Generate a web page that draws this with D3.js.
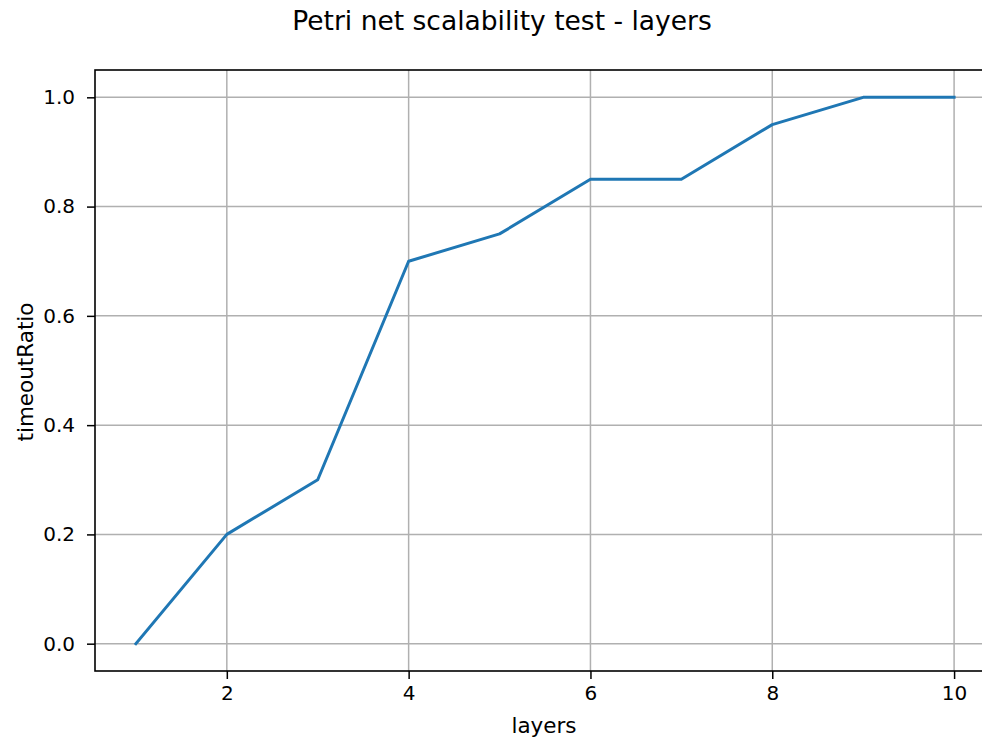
<!DOCTYPE html>
<html>
<head>
<meta charset="utf-8">
<script src="https://cdn.jsdelivr.net/npm/d3@7"></script>
<style>
  html, body { margin: 0; padding: 0; background: #fff; }
  svg { display: block; font-family: "DejaVu Sans", sans-serif; }
</style>
</head>
<body>
<svg id="chart" width="982" height="740"></svg>
<script>
// Timeout ratio per number of layers
const layers = [1, 2, 3, 4, 5, 6, 7, 8, 9, 10];
const timeoutRatio = [0.0, 0.2, 0.3, 0.7, 0.75, 0.85, 0.85, 0.95, 1.0, 1.0];
const xTicks = [2, 4, 6, 8, 10];
const yTicks = [0.0, 0.2, 0.4, 0.6, 0.8, 1.0];

const svg = d3.select("#chart");
const margin = { left: 95, top: 70, right: 995, bottom: 671 };

const x = d3.scaleLinear().domain([0.55, 10.45]).range([margin.left, margin.right]);
const y = d3.scaleLinear().domain([-0.05, 1.05]).range([margin.bottom, margin.top]);

// Grid
const grid = svg.append("g");
grid.selectAll(".gx").data(xTicks).join("line")
  .attr("x1", d => x(d)).attr("x2", d => x(d))
  .attr("y1", margin.top).attr("y2", margin.bottom)
  .attr("stroke", "#b0b0b0").attr("stroke-width", 1.5);
grid.selectAll(".gy").data(yTicks).join("line")
  .attr("x1", margin.left).attr("x2", margin.right)
  .attr("y1", d => y(d)).attr("y2", d => y(d))
  .attr("stroke", "#b0b0b0").attr("stroke-width", 1.5);

// Line
const line = d3.line().x((d, i) => x(layers[i])).y(d => y(d));
svg.append("path")
  .datum(timeoutRatio)
  .attr("d", line)
  .attr("fill", "none")
  .attr("stroke", "#1f77b4")
  .attr("stroke-width", 3)
  .attr("stroke-linecap", "square")
  .attr("stroke-linejoin", "round");

// Axes
const xAxis = d3.axisBottom(x).tickValues(xTicks).tickFormat(d3.format("d")).tickSize(8).tickPadding(6.5);
const yAxis = d3.axisLeft(y).tickValues(yTicks).tickFormat(d3.format(".1f")).tickSize(8).tickPadding(12);

const gx = svg.append("g").attr("transform", `translate(0,${margin.bottom})`).call(xAxis);
const gy = svg.append("g").attr("transform", `translate(${margin.left},0)`).call(yAxis);
[gx, gy].forEach(g => {
  g.attr("font-family", null).attr("font-size", null);
  g.select(".domain").remove();
  g.selectAll(".tick line").attr("stroke", "#000").attr("stroke-width", 1.5);
  g.selectAll(".tick text").style("font-size", "20px").attr("fill", "#000")
    .style("font-family", "'DejaVu Sans', sans-serif");
});

// Frame
svg.append("rect")
  .attr("x", margin.left).attr("y", margin.top)
  .attr("width", margin.right - margin.left).attr("height", margin.bottom - margin.top)
  .attr("fill", "none").attr("stroke", "#000").attr("stroke-width", 1.6);

// Labels
svg.append("text").attr("x", 502).attr("y", 30).attr("text-anchor", "middle")
  .style("font-size", "26.5px").text("Petri net scalability test - layers");
svg.append("text").attr("x", 544).attr("y", 733).attr("text-anchor", "middle")
  .style("font-size", "21.5px").text("layers");
svg.append("text").attr("transform", `translate(33,372) rotate(-90)`)
  .attr("text-anchor", "middle").style("font-size", "21.5px").text("timeoutRatio");
</script>
</body>
</html>
